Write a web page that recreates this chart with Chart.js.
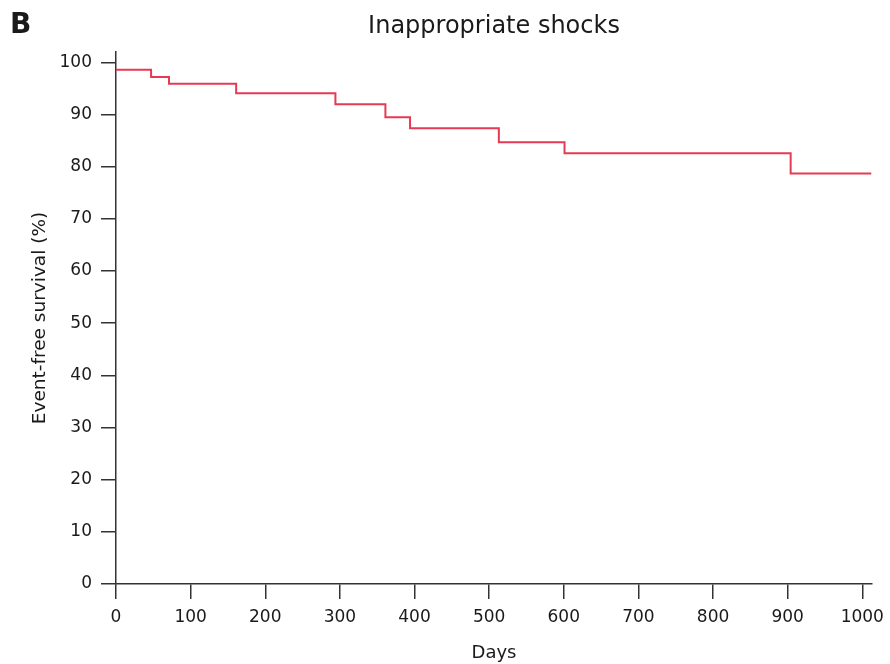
<!DOCTYPE html>
<html>
<head>
<meta charset="utf-8">
<title>Inappropriate shocks</title>
<script src="https://cdn.jsdelivr.net/npm/chart.js@4/dist/chart.umd.min.js"></script>
<style>
  html, body { margin: 0; padding: 0; background: #fff; }
  #wrap { position: relative; width: 890px; height: 664px; }
</style>
</head>
<body>
<div id="wrap"><canvas id="km"></canvas></div>
<script>
// Kaplan-Meier steps: day of each event and survival after it
const days = [0, 47, 71, 161, 294, 361, 394, 513, 601, 904, 1012];
const survival = [98.6, 97.2, 95.9, 94.1, 92.0, 89.5, 87.4, 84.7, 82.6, 78.7, 78.7];

const xTicks = [0, 100, 200, 300, 400, 500, 600, 700, 800, 900, 1000];
const yTicks = [0, 10, 20, 30, 40, 50, 60, 70, 80, 90, 100];

const panelLetter = 'B';
const chartTitle = 'Inappropriate shocks';
const FONT = "'DejaVu Sans', sans-serif";
const INK = '#1a1a1a';
const AXIS = '#333';

const points = days.map((d, i) => ({ x: d, y: survival[i] }));

// panel letter + title centred over the plot area
const headerPlugin = {
    id: 'header',
    afterDraw(chart) {
        const ctx = chart.ctx;
        const area = chart.chartArea;
        ctx.save();
        ctx.fillStyle = INK;
        ctx.textBaseline = 'alphabetic';
        ctx.textAlign = 'left';
        ctx.font = `bold 28px ${FONT}`;
        ctx.fillText(panelLetter, 10, 33);
        ctx.textAlign = 'center';
        ctx.font = `24px ${FONT}`;
        ctx.fillText(chartTitle, (area.left + area.right) / 2, 33);
        ctx.restore();
    }
};

new Chart(document.getElementById('km'), {
    type: 'line',
    data: {
        datasets: [{
            data: points,
            stepped: 'before',
            borderColor: 'rgb(230, 58, 82)',
            borderWidth: 2,
            pointRadius: 0,
            fill: false
        }]
    },
    options: {
        responsive: true,
        maintainAspectRatio: false,
        animation: false,
        layout: { padding: { top: 52, right: 18, left: 0, bottom: 0 } },
        plugins: {
            legend: { display: false },
            tooltip: { enabled: false }
        },
        scales: {
            x: {
                type: 'linear',
                min: 0,
                max: 1013,
                afterBuildTicks: s => { s.ticks = xTicks.map(v => ({ value: v })); },
                // fixed band under the plot; last label may overhang the right edge
                afterFit: s => { s.height = 80; s.paddingRight = 0; },
                grid: { drawOnChartArea: false, drawTicks: true, tickLength: 15, color: AXIS, lineWidth: 1.5 },
                border: { display: true, color: AXIS, width: 1.5 },
                ticks: {
                    autoSkip: false, maxRotation: 0, padding: 8, color: INK,
                    font: { family: FONT, size: 17 },
                    callback: v => String(v)
                },
                title: { display: true, text: 'Days', color: INK, font: { family: FONT, size: 18 }, padding: { bottom: 0, top: 0 } }
            },
            y: {
                min: 0,
                max: 102,
                afterBuildTicks: s => { s.ticks = yTicks.map(v => ({ value: v })); },
                afterFit: s => { s.width = 116; },
                grid: { drawOnChartArea: false, drawTicks: true, tickLength: 15, color: AXIS, lineWidth: 1.5 },
                border: { display: true, color: AXIS, width: 1.5 },
                ticks: { padding: 9, color: INK, font: { family: FONT, size: 17 }, callback: v => String(v) },
                title: { display: true, text: 'Event-free survival (%)', color: INK, font: { family: FONT, size: 18.5 }, padding: { top: 29, bottom: 0 } }
            }
        }
    },
    plugins: [headerPlugin]
});
</script>
</body>
</html>
